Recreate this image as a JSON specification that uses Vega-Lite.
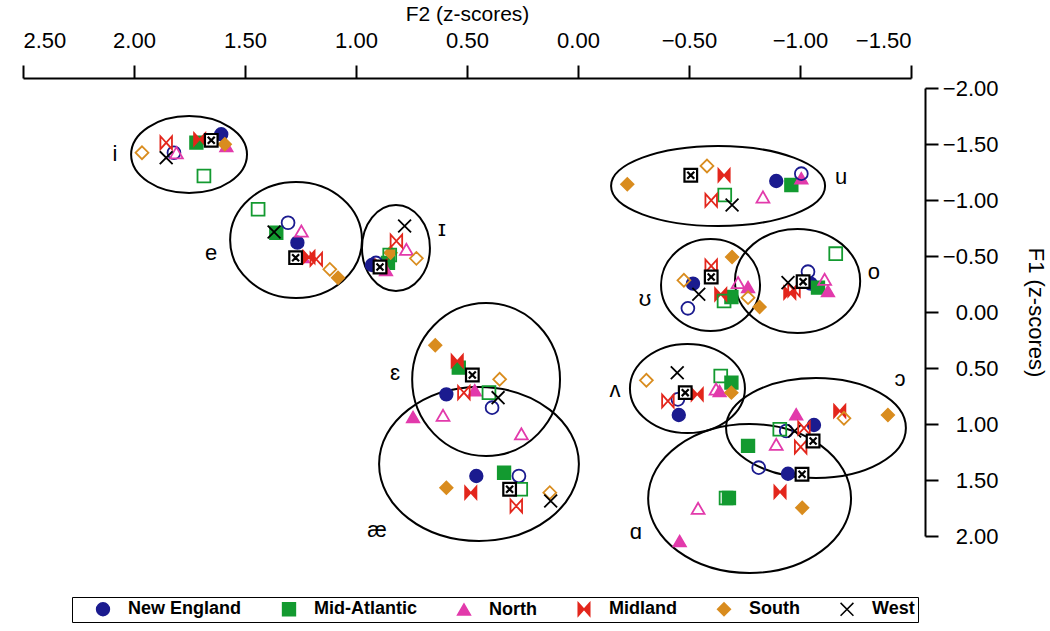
{
  "$schema": "https://vega.github.io/schema/vega-lite/v6.json",
  "width": 888,
  "height": 448,
  "autosize": {"type": "none"},
  "padding": {"left": 23, "top": 88, "right": 139, "bottom": 95},
  "background": "white",
  "config": {"view": {"stroke": null}, "font": "Liberation Sans"},
  "datasets": {
    "points": [
      {"v":"i","region":"New England","gen":"1","F2":1.607,"F1":-1.587},
      {"v":"i","region":"New England","gen":"2","F2":1.820,"F1":-1.422},
      {"v":"i","region":"Mid-Atlantic","gen":"1","F2":1.719,"F1":-1.512},
      {"v":"i","region":"Mid-Atlantic","gen":"2","F2":1.685,"F1":-1.214},
      {"v":"i","region":"North","gen":"1","F2":1.584,"F1":-1.482},
      {"v":"i","region":"North","gen":"2","F2":1.809,"F1":-1.422},
      {"v":"i","region":"Midland","gen":"1","F2":1.704,"F1":-1.542},
      {"v":"i","region":"Midland","gen":"2","F2":1.855,"F1":-1.512},
      {"v":"i","region":"South","gen":"1","F2":1.591,"F1":-1.497},
      {"v":"i","region":"South","gen":"2","F2":1.964,"F1":-1.422},
      {"v":"i","region":"West","gen":"1","F2":1.652,"F1":-1.533},
      {"v":"i","region":"West","gen":"2","F2":1.855,"F1":-1.378},

      {"v":"e","region":"New England","gen":"1","F2":1.264,"F1":-0.619},
      {"v":"e","region":"New England","gen":"2","F2":1.306,"F1":-0.797},
      {"v":"e","region":"Mid-Atlantic","gen":"1","F2":1.359,"F1":-0.708},
      {"v":"e","region":"Mid-Atlantic","gen":"2","F2":1.441,"F1":-0.917},
      {"v":"e","region":"North","gen":"1","F2":1.239,"F1":-0.491},
      {"v":"e","region":"North","gen":"2","F2":1.246,"F1":-0.723},
      {"v":"e","region":"Midland","gen":"1","F2":1.212,"F1":-0.491},
      {"v":"e","region":"Midland","gen":"2","F2":1.179,"F1":-0.471},
      {"v":"e","region":"South","gen":"1","F2":1.081,"F1":-0.306},
      {"v":"e","region":"South","gen":"2","F2":1.118,"F1":-0.381},
      {"v":"e","region":"West","gen":"1","F2":1.272,"F1":-0.485},
      {"v":"e","region":"West","gen":"2","F2":1.369,"F1":-0.714},

      {"v":"ɪ","region":"New England","gen":"1","F2":0.928,"F1":-0.420},
      {"v":"ɪ","region":"New England","gen":"2","F2":0.910,"F1":-0.438},
      {"v":"ɪ","region":"Mid-Atlantic","gen":"1","F2":0.856,"F1":-0.438},
      {"v":"ɪ","region":"Mid-Atlantic","gen":"2","F2":0.848,"F1":-0.509},
      {"v":"ɪ","region":"North","gen":"1","F2":0.865,"F1":-0.375},
      {"v":"ɪ","region":"North","gen":"2","F2":0.773,"F1":-0.560},
      {"v":"ɪ","region":"Midland","gen":"1","F2":0.887,"F1":-0.411},
      {"v":"ɪ","region":"Midland","gen":"2","F2":0.818,"F1":-0.634},
      {"v":"ɪ","region":"South","gen":"1","F2":0.844,"F1":-0.529},
      {"v":"ɪ","region":"South","gen":"2","F2":0.728,"F1":-0.479},
      {"v":"ɪ","region":"West","gen":"1","F2":0.892,"F1":-0.402},
      {"v":"ɪ","region":"West","gen":"2","F2":0.781,"F1":-0.768},

      {"v":"ɛ","region":"New England","gen":"1","F2":0.593,"F1":0.735},
      {"v":"ɛ","region":"New England","gen":"2","F2":0.387,"F1":0.854},
      {"v":"ɛ","region":"Mid-Atlantic","gen":"1","F2":0.537,"F1":0.497},
      {"v":"ɛ","region":"Mid-Atlantic","gen":"2","F2":0.401,"F1":0.720},
      {"v":"ɛ","region":"North","gen":"1","F2":0.465,"F1":0.699},
      {"v":"ɛ","region":"North","gen":"2","F2":0.608,"F1":0.922},
      {"v":"ɛ","region":"Midland","gen":"1","F2":0.544,"F1":0.4375},
      {"v":"ɛ","region":"Midland","gen":"2","F2":0.514,"F1":0.720},
      {"v":"ɛ","region":"South","gen":"1","F2":0.643,"F1":0.297},
      {"v":"ɛ","region":"South","gen":"2","F2":0.353,"F1":0.601},
      {"v":"ɛ","region":"West","gen":"1","F2":0.476,"F1":0.5625},
      {"v":"ɛ","region":"West","gen":"2","F2":0.360,"F1":0.765},

      {"v":"æ","region":"New England","gen":"1","F2":0.458,"F1":1.464},
      {"v":"æ","region":"New England","gen":"2","F2":0.266,"F1":1.464},
      {"v":"æ","region":"Mid-Atlantic","gen":"1","F2":0.333,"F1":1.435},
      {"v":"æ","region":"Mid-Atlantic","gen":"2","F2":0.258,"F1":1.583},
      {"v":"æ","region":"North","gen":"1","F2":0.743,"F1":0.9375},
      {"v":"æ","region":"North","gen":"2","F2":0.255,"F1":1.087},
      {"v":"æ","region":"Midland","gen":"1","F2":0.483,"F1":1.613},
      {"v":"æ","region":"Midland","gen":"2","F2":0.278,"F1":1.732},
      {"v":"æ","region":"South","gen":"1","F2":0.593,"F1":1.569},
      {"v":"æ","region":"South","gen":"2","F2":0.127,"F1":1.613},
      {"v":"æ","region":"West","gen":"1","F2":0.308,"F1":1.583},
      {"v":"æ","region":"West","gen":"2","F2":0.123,"F1":1.6875},

      {"v":"u","region":"New England","gen":"1","F2":-0.893,"F1":-1.170},
      {"v":"u","region":"New England","gen":"2","F2":-1.006,"F1":-1.235},
      {"v":"u","region":"Mid-Atlantic","gen":"1","F2":-0.961,"F1":-1.134},
      {"v":"u","region":"Mid-Atlantic","gen":"2","F2":-0.661,"F1":-1.045},
      {"v":"u","region":"North","gen":"1","F2":-1.006,"F1":-1.194},
      {"v":"u","region":"North","gen":"2","F2":-0.833,"F1":-1.027},
      {"v":"u","region":"Midland","gen":"1","F2":-0.658,"F1":-1.221},
      {"v":"u","region":"Midland","gen":"2","F2":-0.600,"F1":-0.997},
      {"v":"u","region":"South","gen":"1","F2":-0.222,"F1":-1.140},
      {"v":"u","region":"South","gen":"2","F2":-0.581,"F1":-1.304},
      {"v":"u","region":"West","gen":"1","F2":-0.508,"F1":-1.221},
      {"v":"u","region":"West","gen":"2","F2":-0.694,"F1":-0.955},

      {"v":"ʊ","region":"New England","gen":"1","F2":-0.518,"F1":-0.253},
      {"v":"ʊ","region":"New England","gen":"2","F2":-0.495,"F1":-0.033},
      {"v":"ʊ","region":"Mid-Atlantic","gen":"1","F2":-0.691,"F1":-0.134},
      {"v":"ʊ","region":"Mid-Atlantic","gen":"2","F2":-0.658,"F1":-0.098},
      {"v":"ʊ","region":"North","gen":"1","F2":-0.766,"F1":-0.223},
      {"v":"ʊ","region":"North","gen":"2","F2":-0.721,"F1":-0.262},
      {"v":"ʊ","region":"Midland","gen":"1","F2":-0.643,"F1":-0.158},
      {"v":"ʊ","region":"Midland","gen":"2","F2":-0.600,"F1":-0.411},
      {"v":"ʊ","region":"South","gen":"1","F2":-0.694,"F1":-0.491},
      {"v":"ʊ","region":"South","gen":"2","F2":-0.477,"F1":-0.283},
      {"v":"ʊ","region":"West","gen":"1","F2":-0.600,"F1":-0.3125},
      {"v":"ʊ","region":"West","gen":"2","F2":-0.544,"F1":-0.158},

      {"v":"o","region":"New England","gen":"1","F2":-1.048,"F1":-0.253},
      {"v":"o","region":"New England","gen":"2","F2":-1.036,"F1":-0.360},
      {"v":"o","region":"Mid-Atlantic","gen":"1","F2":-1.081,"F1":-0.217},
      {"v":"o","region":"Mid-Atlantic","gen":"2","F2":-1.161,"F1":-0.521},
      {"v":"o","region":"North","gen":"1","F2":-1.126,"F1":-0.1875},
      {"v":"o","region":"North","gen":"2","F2":-1.111,"F1":-0.292},
      {"v":"o","region":"Midland","gen":"1","F2":-0.954,"F1":-0.172},
      {"v":"o","region":"Midland","gen":"2","F2":-0.973,"F1":-0.196},
      {"v":"o","region":"South","gen":"1","F2":-0.818,"F1":-0.045},
      {"v":"o","region":"South","gen":"2","F2":-0.766,"F1":-0.128},
      {"v":"o","region":"West","gen":"1","F2":-1.014,"F1":-0.271},
      {"v":"o","region":"West","gen":"2","F2":-0.946,"F1":-0.262},

      {"v":"ʌ","region":"New England","gen":"1","F2":-0.454,"F1":0.920},
      {"v":"ʌ","region":"New England","gen":"2","F2":-0.450,"F1":0.780},
      {"v":"ʌ","region":"Mid-Atlantic","gen":"1","F2":-0.691,"F1":0.631},
      {"v":"ʌ","region":"Mid-Atlantic","gen":"2","F2":-0.643,"F1":0.571},
      {"v":"ʌ","region":"North","gen":"1","F2":-0.638,"F1":0.705},
      {"v":"ʌ","region":"North","gen":"2","F2":-0.622,"F1":0.6875},
      {"v":"ʌ","region":"Midland","gen":"1","F2":-0.537,"F1":0.735},
      {"v":"ʌ","region":"Midland","gen":"2","F2":-0.405,"F1":0.795},
      {"v":"ʌ","region":"South","gen":"1","F2":-0.691,"F1":0.720},
      {"v":"ʌ","region":"South","gen":"2","F2":-0.308,"F1":0.610},
      {"v":"ʌ","region":"West","gen":"1","F2":-0.483,"F1":0.720},
      {"v":"ʌ","region":"West","gen":"2","F2":-0.447,"F1":0.542},

      {"v":"ɔ","region":"New England","gen":"1","F2":-1.063,"F1":1.009},
      {"v":"ɔ","region":"New England","gen":"2","F2":-0.938,"F1":1.0625},
      {"v":"ɔ","region":"Mid-Atlantic","gen":"1","F2":-0.766,"F1":1.196},
      {"v":"ɔ","region":"Mid-Atlantic","gen":"2","F2":-0.909,"F1":1.047},
      {"v":"ɔ","region":"North","gen":"1","F2":-0.983,"F1":0.913},
      {"v":"ɔ","region":"North","gen":"2","F2":-0.893,"F1":1.181},
      {"v":"ɔ","region":"Midland","gen":"1","F2":-1.179,"F1":0.884},
      {"v":"ɔ","region":"Midland","gen":"2","F2":-1.003,"F1":1.205},
      {"v":"ɔ","region":"South","gen":"1","F2":-1.396,"F1":0.920},
      {"v":"ɔ","region":"South","gen":"2","F2":-1.198,"F1":0.949},
      {"v":"ɔ","region":"West","gen":"1","F2":-1.059,"F1":1.152},
      {"v":"ɔ","region":"West","gen":"2","F2":-0.976,"F1":1.0625},

      {"v":"ɑ","region":"New England","gen":"1","F2":-0.946,"F1":1.444},
      {"v":"ɑ","region":"New England","gen":"2","F2":-0.814,"F1":1.390},
      {"v":"ɑ","region":"Mid-Atlantic","gen":"1","F2":-0.680,"F1":1.661},
      {"v":"ɑ","region":"Mid-Atlantic","gen":"2","F2":-0.667,"F1":1.661},
      {"v":"ɑ","region":"North","gen":"1","F2":-0.458,"F1":2.045},
      {"v":"ɑ","region":"North","gen":"2","F2":-0.541,"F1":1.753},
      {"v":"ɑ","region":"Midland","gen":"1","F2":-0.910,"F1":1.607},
      {"v":"ɑ","region":"Midland","gen":"2","F2":-1.018,"F1":1.036},
      {"v":"ɑ","region":"South","gen":"1","F2":-1.010,"F1":1.747},
      {"v":"ɑ","region":"West","gen":"1","F2":-1.009,"F1":1.449}
    ],
    "ellipses": [
      {"vowel":"i","F2":1.752,"F1":-1.406,"rx":0.261,"ry":0.344},
      {"vowel":"e","F2":1.270,"F1":-0.643,"rx":0.297,"ry":0.518},
      {"vowel":"ɪ","F2":0.820,"F1":-0.571,"rx":0.153,"ry":0.384},
      {"vowel":"ɛ","F2":0.414,"F1":0.603,"rx":0.333,"ry":0.683},
      {"vowel":"æ","F2":0.446,"F1":1.357,"rx":0.450,"ry":0.688},
      {"vowel":"u","F2":-0.631,"F1":-1.125,"rx":0.482,"ry":0.357},
      {"vowel":"ʊ","F2":-0.597,"F1":-0.241,"rx":0.223,"ry":0.411},
      {"vowel":"o","F2":-0.989,"F1":-0.277,"rx":0.282,"ry":0.464},
      {"vowel":"ʌ","F2":-0.493,"F1":0.683,"rx":0.259,"ry":0.397},
      {"vowel":"ɔ","F2":-1.072,"F1":1.036,"rx":0.405,"ry":0.446},
      {"vowel":"ɑ","F2":-0.773,"F1":1.665,"rx":0.457,"ry":0.665}
    ],
    "labels": [
      {"vowel":"i","F2":2.086,"F1":-1.411},
      {"vowel":"e","F2":1.653,"F1":-0.527},
      {"vowel":"ɪ","F2":0.613,"F1":-0.741},
      {"vowel":"ɛ","F2":0.824,"F1":0.545},
      {"vowel":"æ","F2":0.905,"F1":1.946},
      {"vowel":"u","F2":-1.185,"F1":-1.205},
      {"vowel":"ʊ","F2":-0.302,"F1":-0.116},
      {"vowel":"o","F2":-1.333,"F1":-0.357},
      {"vowel":"ʌ","F2":-0.167,"F1":0.696},
      {"vowel":"ɔ","F2":-1.450,"F1":0.598},
      {"vowel":"ɑ","F2":-0.261,"F1":1.964}
    ]
  },
  "encoding": {
    "x": {"field": "F2", "type": "quantitative",
      "scale": {"domain": [-1.5, 2.5], "reverse": true, "nice": false, "zero": false},
      "axis": {"orient": "top", "title": "F2 (z-scores)", "values": [-1.5,-1,-0.5,0,0.5,1,1.5,2,2.5], "format": ".2f",
        "grid": false, "offset": 10, "tickSize": 13, "tickWidth": 2, "domainWidth": 2, "domainColor": "black", "tickColor": "black",
        "labelColor": "black", "labelFontSize": 22, "labelPadding": 13, "labelFont": "Liberation Sans",
        "titleFont": "Liberation Sans", "titleFontSize": 21, "titleFontWeight": "normal", "titleColor": "black", "titlePadding": 5}},
    "y": {"field": "F1", "type": "quantitative",
      "scale": {"domain": [-2, 2], "reverse": true, "nice": false, "zero": false},
      "axis": {"orient": "right", "title": "F1 (z-scores)", "values": [-2,-1.5,-1,-0.5,0,0.5,1,1.5,2], "format": ".2f",
        "grid": false, "offset": 14, "tickSize": 13, "tickWidth": 2, "domainWidth": 2, "domainColor": "black", "tickColor": "black",
        "labelColor": "black", "labelFontSize": 22, "labelAlign": "right", "labelPadding": 60, "labelFont": "Liberation Sans",
        "titleFont": "Liberation Sans", "titleFontSize": 22, "titleFontWeight": "normal", "titleColor": "black", "titleAngle": 90, "titlePadding": 25}}
  },
  "layer": [
    {"data": {"name": "ellipses"}, "transform": [{"filter": "datum.vowel == 'i'"}],
     "mark": {"type": "point", "filled": false, "stroke": "black", "strokeWidth": 2, "opacity": 1,
       "shape": "M-1,0C-1,-0.367 -0.552,-0.664 0,-0.664C0.552,-0.664 1,-0.367 1,0C1,0.367 0.552,0.664 0,0.664C-0.552,0.664 -1,0.367 -1,0Z"},
     "encoding": {"size": {"field": "rx", "type": "quantitative", "scale": {"type": "pow", "exponent": 2, "domain": [0, 1], "range": [0, 197136], "zero": true}, "legend": null}}},
    {"data": {"name": "ellipses"}, "transform": [{"filter": "datum.vowel == 'e'"}],
     "mark": {"type": "point", "filled": false, "stroke": "black", "strokeWidth": 2, "opacity": 1,
       "shape": "M-1,0C-1,-0.485 -0.552,-0.879 0,-0.879C0.552,-0.879 1,-0.485 1,0C1,0.485 0.552,0.879 0,0.879C-0.552,0.879 -1,0.485 -1,0Z"},
     "encoding": {"size": {"field": "rx", "type": "quantitative", "scale": {"type": "pow", "exponent": 2, "domain": [0, 1], "range": [0, 197136], "zero": true}, "legend": null}}},
    {"data": {"name": "ellipses"}, "transform": [{"filter": "datum.vowel == 'ɪ'"}],
     "mark": {"type": "point", "filled": false, "stroke": "black", "strokeWidth": 2, "opacity": 1,
       "shape": "M-1,0C-1,-0.699 -0.552,-1.265 0,-1.265C0.552,-1.265 1,-0.699 1,0C1,0.699 0.552,1.265 0,1.265C-0.552,1.265 -1,0.699 -1,0Z"},
     "encoding": {"size": {"field": "rx", "type": "quantitative", "scale": {"type": "pow", "exponent": 2, "domain": [0, 1], "range": [0, 197136], "zero": true}, "legend": null}}},
    {"data": {"name": "ellipses"}, "transform": [{"filter": "datum.vowel == 'ɛ'"}],
     "mark": {"type": "point", "filled": false, "stroke": "black", "strokeWidth": 2, "opacity": 1,
       "shape": "M-1,0C-1,-0.571 -0.552,-1.034 0,-1.034C0.552,-1.034 1,-0.571 1,0C1,0.571 0.552,1.034 0,1.034C-0.552,1.034 -1,0.571 -1,0Z"},
     "encoding": {"size": {"field": "rx", "type": "quantitative", "scale": {"type": "pow", "exponent": 2, "domain": [0, 1], "range": [0, 197136], "zero": true}, "legend": null}}},
    {"data": {"name": "ellipses"}, "transform": [{"filter": "datum.vowel == 'æ'"}],
     "mark": {"type": "point", "filled": false, "stroke": "black", "strokeWidth": 2, "opacity": 1,
       "shape": "M-1,0C-1,-0.425 -0.552,-0.770 0,-0.770C0.552,-0.770 1,-0.425 1,0C1,0.425 0.552,0.770 0,0.770C-0.552,0.770 -1,0.425 -1,0Z"},
     "encoding": {"size": {"field": "rx", "type": "quantitative", "scale": {"type": "pow", "exponent": 2, "domain": [0, 1], "range": [0, 197136], "zero": true}, "legend": null}}},
    {"data": {"name": "ellipses"}, "transform": [{"filter": "datum.vowel == 'u'"}],
     "mark": {"type": "point", "filled": false, "stroke": "black", "strokeWidth": 2, "opacity": 1,
       "shape": "M-1,0C-1,-0.207 -0.552,-0.374 0,-0.374C0.552,-0.374 1,-0.207 1,0C1,0.207 0.552,0.374 0,0.374C-0.552,0.374 -1,0.207 -1,0Z"},
     "encoding": {"size": {"field": "rx", "type": "quantitative", "scale": {"type": "pow", "exponent": 2, "domain": [0, 1], "range": [0, 197136], "zero": true}, "legend": null}}},
    {"data": {"name": "ellipses"}, "transform": [{"filter": "datum.vowel == 'ʊ'"}],
     "mark": {"type": "point", "filled": false, "stroke": "black", "strokeWidth": 2, "opacity": 1,
       "shape": "M-1,0C-1,-0.513 -0.552,-0.929 0,-0.929C0.552,-0.929 1,-0.513 1,0C1,0.513 0.552,0.929 0,0.929C-0.552,0.929 -1,0.513 -1,0Z"},
     "encoding": {"size": {"field": "rx", "type": "quantitative", "scale": {"type": "pow", "exponent": 2, "domain": [0, 1], "range": [0, 197136], "zero": true}, "legend": null}}},
    {"data": {"name": "ellipses"}, "transform": [{"filter": "datum.vowel == 'o'"}],
     "mark": {"type": "point", "filled": false, "stroke": "black", "strokeWidth": 2, "opacity": 1,
       "shape": "M-1,0C-1,-0.460 -0.552,-0.832 0,-0.832C0.552,-0.832 1,-0.460 1,0C1,0.460 0.552,0.832 0,0.832C-0.552,0.832 -1,0.460 -1,0Z"},
     "encoding": {"size": {"field": "rx", "type": "quantitative", "scale": {"type": "pow", "exponent": 2, "domain": [0, 1], "range": [0, 197136], "zero": true}, "legend": null}}},
    {"data": {"name": "ellipses"}, "transform": [{"filter": "datum.vowel == 'ʌ'"}],
     "mark": {"type": "point", "filled": false, "stroke": "black", "strokeWidth": 2, "opacity": 1,
       "shape": "M-1,0C-1,-0.427 -0.552,-0.774 0,-0.774C0.552,-0.774 1,-0.427 1,0C1,0.427 0.552,0.774 0,0.774C-0.552,0.774 -1,0.427 -1,0Z"},
     "encoding": {"size": {"field": "rx", "type": "quantitative", "scale": {"type": "pow", "exponent": 2, "domain": [0, 1], "range": [0, 197136], "zero": true}, "legend": null}}},
    {"data": {"name": "ellipses"}, "transform": [{"filter": "datum.vowel == 'ɔ'"}],
     "mark": {"type": "point", "filled": false, "stroke": "black", "strokeWidth": 2, "opacity": 1,
       "shape": "M-1,0C-1,-0.307 -0.552,-0.556 0,-0.556C0.552,-0.556 1,-0.307 1,0C1,0.307 0.552,0.556 0,0.556C-0.552,0.556 -1,0.307 -1,0Z"},
     "encoding": {"size": {"field": "rx", "type": "quantitative", "scale": {"type": "pow", "exponent": 2, "domain": [0, 1], "range": [0, 197136], "zero": true}, "legend": null}}},
    {"data": {"name": "ellipses"}, "transform": [{"filter": "datum.vowel == 'ɑ'"}],
     "mark": {"type": "point", "filled": false, "stroke": "black", "strokeWidth": 2, "opacity": 1,
       "shape": "M-1,0C-1,-0.405 -0.552,-0.734 0,-0.734C0.552,-0.734 1,-0.405 1,0C1,0.405 0.552,0.734 0,0.734C-0.552,0.734 -1,0.405 -1,0Z"},
     "encoding": {"size": {"field": "rx", "type": "quantitative", "scale": {"type": "pow", "exponent": 2, "domain": [0, 1], "range": [0, 197136], "zero": true}, "legend": null}}},
    {"data": {"name": "points"}, "transform": [{"filter": "datum.gen == '1' && datum.region != 'West'"}],
     "mark": {"type": "point", "filled": true, "size": 165, "strokeWidth": 1.5, "opacity": 1},
     "encoding": {
       "shape": {"field": "region", "type": "nominal",
         "scale": {"domain": ["New England","Mid-Atlantic","North","Midland","South","West"],
           "range": ["circle","square","triangle-up","M-0.9,-1L0,0L-0.9,1Z M0.9,-1L0,0L0.9,1Z","diamond","M-1,-1L1,1M-1,1L1,-1"]},
         "legend": {"title": null, "orient": "none", "legendX": 49, "legendY": 509, "direction": "horizontal", "columns": 6,
           "columnPadding": 19, "padding": 3, "symbolOffset": 19, "strokeColor": "black", "fillColor": "white", "labelFontSize": 18, "labelFontWeight": "bold",
           "labelFont": "Liberation Sans", "labelColor": "black", "symbolSize": 165, "labelOffset": 16, "symbolStrokeWidth": 1.5}},
       "fill": {"field": "region", "type": "nominal",
         "scale": {"domain": ["New England","Mid-Atlantic","North","Midland","South","West"],
           "range": ["#1b1b8f","#139a30","#e23aab","#e3261c","#d98c1e","#000000"]},
         "legend": {"title": null, "orient": "none", "legendX": 49, "legendY": 509, "direction": "horizontal", "columns": 6,
           "columnPadding": 19, "padding": 3, "symbolOffset": 19, "strokeColor": "black", "fillColor": "white", "labelFontSize": 18, "labelFontWeight": "bold",
           "labelFont": "Liberation Sans", "labelColor": "black", "symbolSize": 165, "labelOffset": 16, "symbolStrokeWidth": 1.5}},
       "stroke": {"field": "region", "type": "nominal",
         "scale": {"domain": ["New England","Mid-Atlantic","North","Midland","South","West"],
           "range": ["#1b1b8f","#139a30","#e23aab","#e3261c","#d98c1e","#000000"]},
         "legend": {"title": null, "orient": "none", "legendX": 49, "legendY": 509, "direction": "horizontal", "columns": 6,
           "columnPadding": 19, "padding": 3, "symbolOffset": 19, "strokeColor": "black", "fillColor": "white", "labelFontSize": 18, "labelFontWeight": "bold",
           "labelFont": "Liberation Sans", "labelColor": "black", "symbolSize": 165, "labelOffset": 16, "symbolStrokeWidth": 1.5}}
     }},
    {"data": {"name": "points"}, "transform": [{"filter": "datum.gen == '2'"}],
     "mark": {"type": "point", "filled": false, "size": 165, "strokeWidth": 1.8, "opacity": 1},
     "encoding": {
       "shape": {"field": "region", "type": "nominal", "legend": null,
         "scale": {"domain": ["New England","Mid-Atlantic","North","Midland","South","West"],
           "range": ["circle","square","triangle-up","M-0.9,-1L0,0L-0.9,1Z M0.9,-1L0,0L0.9,1Z","diamond","M-1,-1L1,1M-1,1L1,-1"]}},
       "stroke": {"field": "region", "type": "nominal", "legend": null,
         "scale": {"domain": ["New England","Mid-Atlantic","North","Midland","South","West"],
           "range": ["#1b1b8f","#139a30","#e23aab","#e3261c","#d98c1e","#000000"]}}
     }},
    {"data": {"name": "points"}, "transform": [{"filter": "datum.gen == '1' && datum.region == 'West'"}],
     "mark": {"type": "point", "shape": "M-1,-1H1V1H-1Z M-0.55,-0.55L0.55,0.55 M-0.55,0.55L0.55,-0.55",
       "size": 160, "filled": false, "fill": "white", "fillOpacity": 1, "stroke": "black", "strokeWidth": 2.2, "opacity": 1},
     "encoding": {}},
    {"data": {"name": "labels"},
     "mark": {"type": "text", "fontSize": 22, "font": "Liberation Sans, DejaVu Sans", "color": "black", "align": "center", "baseline": "middle"},
     "encoding": {"text": {"field": "vowel", "type": "nominal"}}}
  ]
}
